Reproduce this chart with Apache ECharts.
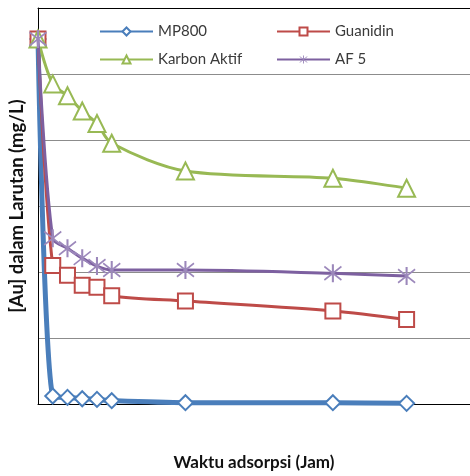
<!DOCTYPE html>
<html>
<head>
<meta charset="utf-8">
<script src="https://cdn.jsdelivr.net/npm/echarts@6/dist/echarts.min.js"></script>
<style>html,body{margin:0;padding:0;background:#fff;}#c{width:470px;height:476px;}</style>
</head>
<body>
<div id="c"></div>
<script>
// Time (jam)
const times = [0, 1, 2, 3, 4, 5, 10, 20, 25];
// [Au] (mg/L), arbitrary units (gridlines = 1 unit)
const mp800 = [5.53, 0.12, 0.10, 0.08, 0.07, 0.05, 0.02, 0.02, 0.01];
const guanidin = [5.53, 2.10, 1.95, 1.80, 1.77, 1.64, 1.56, 1.41, 1.28];
const karbonAktif = [5.53, 4.85, 4.67, 4.44, 4.25, 3.95, 3.53, 3.42, 3.27];
const af5 = [5.53, 2.51, 2.36, 2.21, 2.09, 2.03, 2.03, 1.98, 1.94];
const seriesNames = ['MP800', 'Guanidin', 'Karbon Aktif', 'AF 5'];

const pairs = arr => times.map((t, i) => [t, arr[i]]);
const starPath = 'path://M9,0h2v20h-2z M1.3,3.3l0.9,-1.6l16.5,15l-0.9,1.6z M1.3,16.7l16.5,-15l0.9,1.6l-16.5,15z';

const chart = echarts.init(document.getElementById('c'), null, {renderer: 'canvas'});
const font = 'Lato, "Open Sans", sans-serif';
chart.setOption({
  animation: false,
  backgroundColor: '#fff',
  grid: {left: 37, top: 8, right: 0, bottom: 68},
  legend: [
    {data: ['MP800', 'Karbon Aktif'], orient: 'vertical', left: 94, top: 19, itemWidth: 53, itemHeight: 10, itemGap: 13,
     textStyle: {fontFamily: font, fontSize: 15, color: '#3a3a3a'}},
    {data: ['Guanidin', 'AF 5'], orient: 'vertical', left: 271, top: 19, itemWidth: 53, itemHeight: 10, itemGap: 13,
     textStyle: {fontFamily: font, fontSize: 15, color: '#3a3a3a'}}
  ],
  xAxis: [
    {type: 'value', min: 0, max: 29.3, position: 'bottom',
     name: 'Waktu adsorpsi (Jam)', nameLocation: 'middle', nameGap: 50,
     nameTextStyle: {fontFamily: font, fontWeight: 'bold', fontSize: 17, color: '#111'},
     axisLine: {show: true, lineStyle: {color: '#000', width: 1}}, axisTick: {show: false},
     axisLabel: {show: false}, splitLine: {show: false}},
    {type: 'value', min: 0, max: 29.3, position: 'top',
     axisLine: {show: true, lineStyle: {color: '#000', width: 1}}, axisTick: {show: false},
     axisLabel: {show: false}, splitLine: {show: false}}
  ],
  yAxis: {type: 'value', min: 0, max: 6, interval: 1,
    name: '[Au] dalam Larutan (mg/L)', nameLocation: 'middle', nameGap: 11,
    nameTextStyle: {fontFamily: font, fontWeight: 'bold', fontSize: 18.5, color: '#111'},
    axisLine: {show: true, lineStyle: {color: '#000', width: 1}}, axisTick: {show: false},
    axisLabel: {show: false}, splitLine: {show: true, lineStyle: {color: '#8c8c8c', width: 1}}},
  series: [
    {name: 'MP800', type: 'line', data: pairs(mp800), smooth: 0.3, symbol: 'diamond', symbolSize: 15,
     lineStyle: {color: '#4a7ebb', width: 5}, itemStyle: {color: '#fff', borderColor: '#4a7ebb', borderWidth: 2}, z: 2},
    {name: 'Guanidin', type: 'line', data: pairs(guanidin), smooth: 0.3, symbol: 'rect', symbolSize: 15,
     lineStyle: {color: '#be4b48', width: 3}, itemStyle: {color: '#fff', borderColor: '#be4b48', borderWidth: 2}, z: 3},
    {name: 'Karbon Aktif', type: 'line', data: pairs(karbonAktif), smooth: 0.3, symbol: 'triangle', symbolSize: 17,
     lineStyle: {color: '#98b954', width: 3}, itemStyle: {color: '#fff', borderColor: '#98b954', borderWidth: 2}, z: 4},
    {name: 'AF 5', type: 'line', data: pairs(af5), smooth: 0.3, symbol: starPath, symbolSize: 18,
     lineStyle: {color: '#7d60a0', width: 3}, itemStyle: {color: '#9c88bb', borderWidth: 0}, z: 5}
  ]
});
</script>
</body>
</html>
